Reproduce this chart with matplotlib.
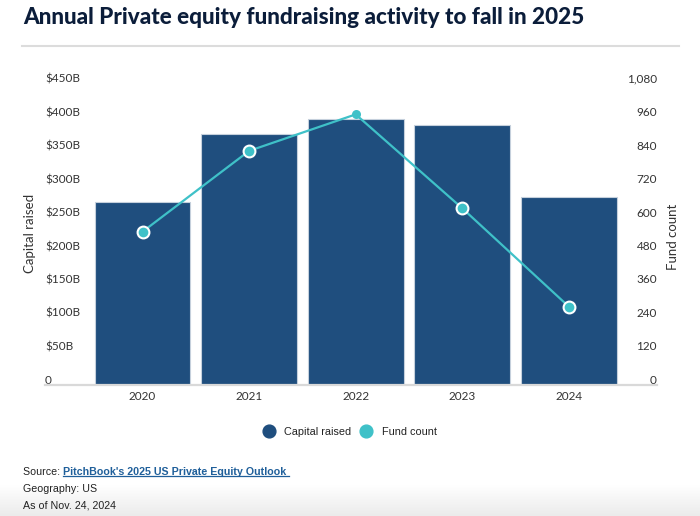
import matplotlib
matplotlib.use("Agg")
import matplotlib.pyplot as plt
import numpy as np
from matplotlib.lines import Line2D
from matplotlib.transforms import ScaledTranslation
from matplotlib.colors import LinearSegmentedColormap

years = ["2020", "2021", "2022", "2023", "2024"]
capital_raised = [274, 375, 397, 389, 281]   # $B
fund_count = [550, 840, 971, 634, 281]
left_ticks = [0, 50, 100, 150, 200, 250, 300, 350, 400, 450]
left_labels = ["0", "$50B", "$100B", "$150B", "$200B", "$250B", "$300B", "$350B", "$400B", "$450B"]
right_ticks = [0, 120, 240, 360, 480, 600, 720, 840, 960, 1080]
right_labels = ["0", "120", "240", "360", "480", "600", "720", "840", "960", "1,080"]

BAR = "#1f4e7e"
TEAL = "#3fc1c8"
TXT = "#333333"
TICKFONT = ["Lato", "DejaVu Sans"]
ARIAL = ["Liberation Sans", "DejaVu Sans"]

W, H = 700, 516
fig = plt.figure(figsize=(7.0, 5.16), dpi=100)
fig.patch.set_facecolor("white")

def fx(px):
    return px / W

def fy(py):
    return 1 - py / H

# bottom gradient
gax = fig.add_axes([0, 0, 1, (H - 485) / H], zorder=-10)
grad = np.linspace(0, 1, 64).reshape(-1, 1)
cm = LinearSegmentedColormap.from_list("g", ["#ffffff", "#ebebeb"])
gax.imshow(grad, aspect="auto", cmap=cm, origin="upper", extent=[0, 1, 0, 1])
gax.axis("off")

ax = fig.add_axes([fx(89.2), fy(385), 533 / W, 301 / H])
x = np.arange(len(years))
ax.bar(x, capital_raised, width=0.9, color=BAR, edgecolor="#c5d0dc", linewidth=0.8, zorder=2)
ax.set_xlim(-0.5, len(years) - 0.5)
ax.set_ylim(0, 450)
ax.set_yticks(left_ticks)
ax.set_yticklabels(left_labels)
ax.set_xticks(x)
ax.set_xticklabels(years)
for s in ax.spines.values():
    s.set_visible(False)
ax.tick_params(axis="y", length=0, pad=31.8, labelsize=8.5, labelcolor=TXT)
ax.tick_params(axis="x", length=0, pad=4.5, labelsize=8.5, labelcolor=TXT)
off = ScaledTranslation(0, 5.7 / 100, fig.dpi_scale_trans)
for lab in ax.get_yticklabels():
    lab.set_horizontalalignment("left")
    lab.set_family(TICKFONT)
    lab.set_transform(lab.get_transform() + off)
for lab in ax.get_xticklabels():
    lab.set_family(TICKFONT)
ax.axhline(0, xmin=(45 - 89.2) / 533, xmax=(657 - 89.2) / 533, color="#d9d9d9",
           lw=1.6, clip_on=False, zorder=3)

ax2 = ax.twinx()
ax2.set_ylim(0, 1080)
ax2.set_yticks(right_ticks)
ax2.set_yticklabels(right_labels)
for s in ax2.spines.values():
    s.set_visible(False)
ax2.tick_params(axis="y", length=0, pad=25, labelsize=8.5, labelcolor=TXT)
for lab in ax2.get_yticklabels():
    lab.set_horizontalalignment("right")
    lab.set_family(TICKFONT)
    lab.set_transform(lab.get_transform() + off)
ax2.plot(x, fund_count, color=TEAL, lw=1.6, zorder=3)
edge_idx = [i for i in range(len(x)) if i != 2]
ax2.plot(x, fund_count, linestyle="none", marker="o", markersize=8.5, markerfacecolor=TEAL,
         markeredgecolor="white", markeredgewidth=1.5, markevery=edge_idx, zorder=4)
ax2.plot(x, fund_count, linestyle="none", marker="o", markersize=6.5, markerfacecolor=TEAL,
         markeredgecolor=TEAL, markeredgewidth=0, markevery=[2], zorder=4)

# axis titles
fig.text(fx(30), fy(233), "Capital raised", rotation=90, ha="center", va="center",
         fontsize=9.5, color=TXT, family=TICKFONT)
fig.text(fx(673), fy(237), "Fund count", rotation=90, ha="center", va="center",
         fontsize=9.5, color=TXT, family=TICKFONT)

# title
fig.text(fx(23), fy(17), "Annual Private equity fundraising activity to fall in 2025",
         ha="left", va="center", fontsize=16.2, fontweight=900, color="#0b1d3a",
         family=["Lato", "Liberation Sans", "DejaVu Sans"])
fig.add_artist(Line2D([fx(22), fx(679)], [fy(45.5), fy(45.5)], color="#dcdcdc", lw=1.5))

# legend
handles = [
    Line2D([], [], linestyle="none", marker="o", markersize=9.2, markerfacecolor=BAR,
           markeredgecolor=BAR, label="Capital raised"),
    Line2D([], [], linestyle="none", marker="o", markersize=9.2, markerfacecolor=TEAL,
           markeredgecolor=TEAL, label="Fund count"),
]
fig.legend(handles=handles, loc="center", bbox_to_anchor=(fx(350), fy(432)), ncol=2,
           frameon=False, prop={"family": ARIAL, "size": 7.8}, handletextpad=0.9,
           columnspacing=0.9, handlelength=1.0, labelcolor="#222222")

# footer
FS = 7.7
src = fig.text(fx(23), fy(472), "Source: ", ha="left", va="center", fontsize=FS,
               color="#222222", family=ARIAL)
fig.canvas.draw()
r = fig.canvas.get_renderer()
bb = src.get_window_extent(r)
link = fig.text(bb.x1 / W, fy(472), "PitchBook's 2025 US Private Equity Outlook ", ha="left",
                va="center", fontsize=FS, fontweight="bold", color="#1f5f9a", family=ARIAL)
fig.canvas.draw()
lb = link.get_window_extent(r)
fig.add_artist(Line2D([lb.x0 / W, lb.x1 / W], [(lb.y0 + 1.5) / H, (lb.y0 + 1.5) / H],
                      color="#1f5f9a", lw=0.9))
fig.text(fx(23), fy(489), "Geography: US", ha="left", va="center", fontsize=FS,
         color="#222222", family=ARIAL)
fig.text(fx(23), fy(505), "As of Nov. 24, 2024", ha="left", va="center", fontsize=FS,
         color="#222222", family=ARIAL)

fig.savefig("out.png", dpi=100)
